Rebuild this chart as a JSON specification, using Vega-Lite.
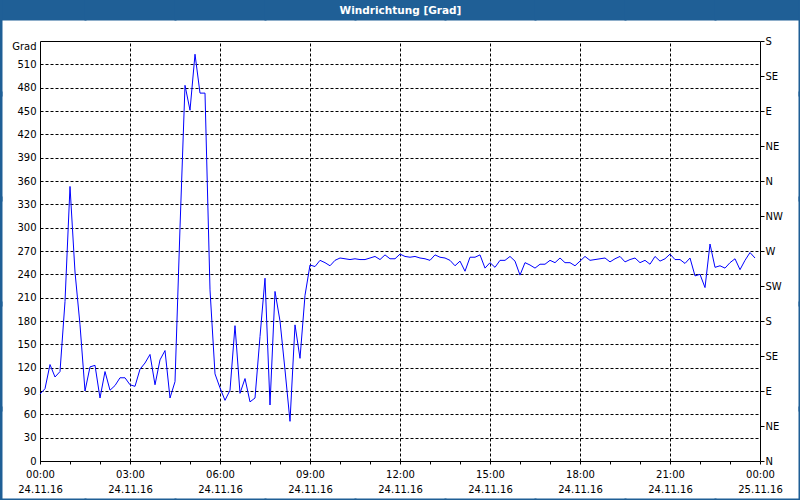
{
  "$schema": "https://vega.github.io/schema/vega-lite/v6.json",
  "width": 720,
  "height": 420,
  "autosize": "none",
  "padding": {"left": 40, "top": 41, "right": 40, "bottom": 39},
  "background": "white",
  "config": {
    "view": {"fill": "white", "stroke": null},
    "font": "DejaVu Sans",
    "axis": {
      "labelFont": "DejaVu Sans",
      "labelFontSize": 10,
      "labelColor": "black",
      "domainColor": "black",
      "domainWidth": 1,
      "tickColor": "black",
      "titleFont": "DejaVu Sans",
      "gridColor": "black",
      "gridOpacity": 1,
      "gridWidth": 1
    }
  },
  "data": {
    "values": [
      {"m": 0, "v": 86}, {"m": 10, "v": 93}, {"m": 20, "v": 124}, {"m": 30, "v": 108},
      {"m": 40, "v": 115}, {"m": 50, "v": 205}, {"m": 60, "v": 353}, {"m": 70, "v": 243},
      {"m": 80, "v": 175}, {"m": 90, "v": 90}, {"m": 100, "v": 121}, {"m": 110, "v": 123},
      {"m": 120, "v": 81}, {"m": 130, "v": 115}, {"m": 140, "v": 91}, {"m": 150, "v": 97},
      {"m": 160, "v": 107}, {"m": 170, "v": 107}, {"m": 180, "v": 98}, {"m": 190, "v": 96},
      {"m": 200, "v": 118}, {"m": 210, "v": 126}, {"m": 220, "v": 137}, {"m": 230, "v": 98},
      {"m": 240, "v": 130}, {"m": 250, "v": 142}, {"m": 260, "v": 81}, {"m": 270, "v": 102},
      {"m": 280, "v": 300}, {"m": 290, "v": 483}, {"m": 300, "v": 451}, {"m": 310, "v": 523},
      {"m": 320, "v": 473}, {"m": 330, "v": 473}, {"m": 340, "v": 220}, {"m": 350, "v": 112},
      {"m": 360, "v": 94}, {"m": 370, "v": 78}, {"m": 380, "v": 91}, {"m": 390, "v": 174},
      {"m": 400, "v": 87}, {"m": 410, "v": 106}, {"m": 420, "v": 76}, {"m": 430, "v": 81},
      {"m": 440, "v": 160}, {"m": 450, "v": 235}, {"m": 460, "v": 72}, {"m": 470, "v": 218},
      {"m": 480, "v": 180}, {"m": 490, "v": 117}, {"m": 500, "v": 51}, {"m": 510, "v": 175},
      {"m": 520, "v": 132}, {"m": 530, "v": 213}, {"m": 540, "v": 252}, {"m": 550, "v": 250},
      {"m": 560, "v": 258}, {"m": 570, "v": 255}, {"m": 580, "v": 251}, {"m": 590, "v": 258},
      {"m": 600, "v": 261}, {"m": 610, "v": 260}, {"m": 620, "v": 259}, {"m": 630, "v": 260},
      {"m": 640, "v": 259}, {"m": 650, "v": 259}, {"m": 660, "v": 261}, {"m": 670, "v": 263},
      {"m": 680, "v": 259}, {"m": 690, "v": 265}, {"m": 700, "v": 260}, {"m": 710, "v": 260},
      {"m": 720, "v": 266}, {"m": 730, "v": 263}, {"m": 740, "v": 262}, {"m": 750, "v": 263},
      {"m": 760, "v": 261}, {"m": 770, "v": 260}, {"m": 780, "v": 258}, {"m": 790, "v": 265},
      {"m": 800, "v": 262}, {"m": 810, "v": 261}, {"m": 820, "v": 258}, {"m": 830, "v": 251},
      {"m": 840, "v": 257}, {"m": 850, "v": 244}, {"m": 860, "v": 262}, {"m": 870, "v": 262},
      {"m": 880, "v": 265}, {"m": 890, "v": 248}, {"m": 900, "v": 255}, {"m": 910, "v": 249},
      {"m": 920, "v": 258}, {"m": 930, "v": 258}, {"m": 940, "v": 263}, {"m": 950, "v": 257},
      {"m": 960, "v": 239}, {"m": 970, "v": 255}, {"m": 980, "v": 252}, {"m": 990, "v": 248},
      {"m": 1000, "v": 253}, {"m": 1010, "v": 253}, {"m": 1020, "v": 258}, {"m": 1030, "v": 255},
      {"m": 1040, "v": 261}, {"m": 1050, "v": 255}, {"m": 1060, "v": 255}, {"m": 1070, "v": 251},
      {"m": 1080, "v": 257}, {"m": 1090, "v": 263}, {"m": 1100, "v": 258}, {"m": 1110, "v": 259},
      {"m": 1120, "v": 260}, {"m": 1130, "v": 261}, {"m": 1140, "v": 256}, {"m": 1150, "v": 260},
      {"m": 1160, "v": 263}, {"m": 1170, "v": 256}, {"m": 1180, "v": 259}, {"m": 1190, "v": 261},
      {"m": 1200, "v": 255}, {"m": 1210, "v": 258}, {"m": 1220, "v": 253}, {"m": 1230, "v": 263},
      {"m": 1240, "v": 257}, {"m": 1250, "v": 260}, {"m": 1260, "v": 266}, {"m": 1270, "v": 259},
      {"m": 1280, "v": 259}, {"m": 1290, "v": 254}, {"m": 1300, "v": 261}, {"m": 1310, "v": 238},
      {"m": 1320, "v": 240}, {"m": 1330, "v": 223}, {"m": 1340, "v": 279}, {"m": 1350, "v": 249},
      {"m": 1360, "v": 251}, {"m": 1370, "v": 248}, {"m": 1380, "v": 255}, {"m": 1390, "v": 260},
      {"m": 1400, "v": 246}, {"m": 1410, "v": 258}, {"m": 1420, "v": 268}, {"m": 1430, "v": 261}
    ]
  },
  "layer": [
    {
      "mark": {"type": "line", "stroke": "#0000ff", "strokeWidth": 1},
      "encoding": {
        "x": {
          "field": "m",
          "type": "quantitative",
          "scale": {"domain": [0, 1440], "nice": false, "zero": false},
          "axis": {
            "orient": "bottom",
            "title": null,
            "values": [0, 60, 120, 180, 240, 300, 360, 420, 480, 540, 600, 660, 720, 780, 840, 900, 960, 1020, 1080, 1140, 1200, 1260, 1320, 1380, 1440],
            "tickSize": 3,
            "grid": false,
            "labelOverlap": false,
            "labelFlush": false,
            "labelBound": false,
            "labelAlign": "center",
            "labelBaseline": "top",
            "labelPadding": 5,
            "labelExpr": "datum.value % 180 == 0 ? ((datum.value % 1440 < 600 ? '0' : '') + ((datum.value % 1440) / 60) + ':00') : ''"
          }
        },
        "y": {
          "field": "v",
          "type": "quantitative",
          "scale": {"domain": [0, 540], "nice": false},
          "axis": {
            "orient": "left",
            "title": "Grad",
            "titleAngle": 0,
            "titleAlign": "right",
            "titleBaseline": "middle",
            "titleX": -4,
            "titleY": 5,
            "titleFontWeight": "normal",
            "titleFontSize": 10,
            "titleColor": "black",
            "values": [0, 30, 60, 90, 120, 150, 180, 210, 240, 270, 300, 330, 360, 390, 420, 450, 480, 510],
            "ticks": false,
            "labelPadding": 4,
            "grid": true,
            "gridDash": [3, 2]
          }
        }
      }
    },
    {
      "mark": {"type": "point", "opacity": 0},
      "encoding": {
        "x": {
          "field": "m",
          "type": "quantitative",
          "axis": {
            "orient": "top",
            "offset": 21,
            "values": [0, 180, 360, 540, 720, 900, 1080, 1260, 1440],
            "labels": false,
            "domain": false,
            "tickSize": 21,
            "tickWidth": 92,
            "tickColor": "#1f5f96",
            "grid": true,
            "gridDash": [3, 2],
            "title": "Windrichtung [Grad]",
            "titleColor": "white",
            "titleFontWeight": "bold",
            "titleFontSize": 10.5,
            "titleAlign": "center",
            "titleBaseline": "middle",
            "titleAngle": 0,
            "titleX": 360,
            "titleY": -10
          }
        },
        "y": {
          "field": "v",
          "type": "quantitative",
          "axis": {
            "orient": "right",
            "title": null,
            "values": [0, 45, 90, 135, 180, 225, 270, 315, 360, 405, 450, 495, 540],
            "tickSize": 4,
            "labelPadding": 1,
            "labelAlign": "left",
            "labelOverlap": false,
            "labelFlush": false,
            "labelBound": false,
            "labelExpr": "['N','NE','E','SE','S','SW','W','NW'][(datum.value / 45) % 8]",
            "grid": false
          }
        }
      }
    },
    {
      "mark": {"type": "point", "opacity": 0},
      "encoding": {
        "x": {
          "field": "m",
          "type": "quantitative",
          "axis": {
            "orient": "bottom",
            "offset": 37,
            "values": [0, 180, 360, 540, 720, 900, 1080, 1260, 1440],
            "labels": false,
            "domain": false,
            "grid": false,
            "tickSize": 3,
            "tickWidth": 92,
            "tickColor": "#1f5f96",
            "title": null
          }
        },
        "y": {
          "field": "v",
          "type": "quantitative",
          "axis": {
            "orient": "left",
            "offset": 38,
            "values": [0, 135, 270, 405, 540],
            "labels": false,
            "domain": false,
            "grid": false,
            "tickSize": 3,
            "tickWidth": 110,
            "tickColor": "#1f5f96",
            "title": null
          }
        }
      }
    },
    {
      "mark": {"type": "point", "opacity": 0},
      "encoding": {
        "x": {
          "field": "m",
          "type": "quantitative",
          "axis": {
            "orient": "top",
            "offset": 0,
            "values": [0],
            "labels": false,
            "ticks": false,
            "grid": false,
            "domain": true,
            "title": null
          }
        },
        "y": {
          "field": "v",
          "type": "quantitative",
          "axis": {
            "orient": "right",
            "offset": 38,
            "values": [0, 135, 270, 405, 540],
            "labels": false,
            "domain": false,
            "grid": false,
            "tickSize": 3,
            "tickWidth": 110,
            "tickColor": "#1f5f96",
            "title": null
          }
        }
      }
    },
    {
      "mark": {"type": "point", "opacity": 0},
      "encoding": {
        "x": {
          "field": "m",
          "type": "quantitative",
          "axis": {
            "orient": "bottom",
            "offset": 0,
            "values": [0, 180, 360, 540, 720, 900, 1080, 1260, 1440],
            "ticks": false,
            "tickSize": 0,
            "domain": false,
            "grid": false,
            "labelOverlap": false,
            "labelFlush": false,
            "labelBound": false,
            "labelAlign": "center",
            "labelBaseline": "top",
            "labelPadding": 23,
            "labelExpr": "datum.value == 1440 ? '25.11.16' : '24.11.16'",
            "title": null
          }
        },
        "y": {"field": "v", "type": "quantitative", "axis": null}
      }
    }
  ],
  "resolve": {"axis": {"x": "independent", "y": "independent"}}
}
